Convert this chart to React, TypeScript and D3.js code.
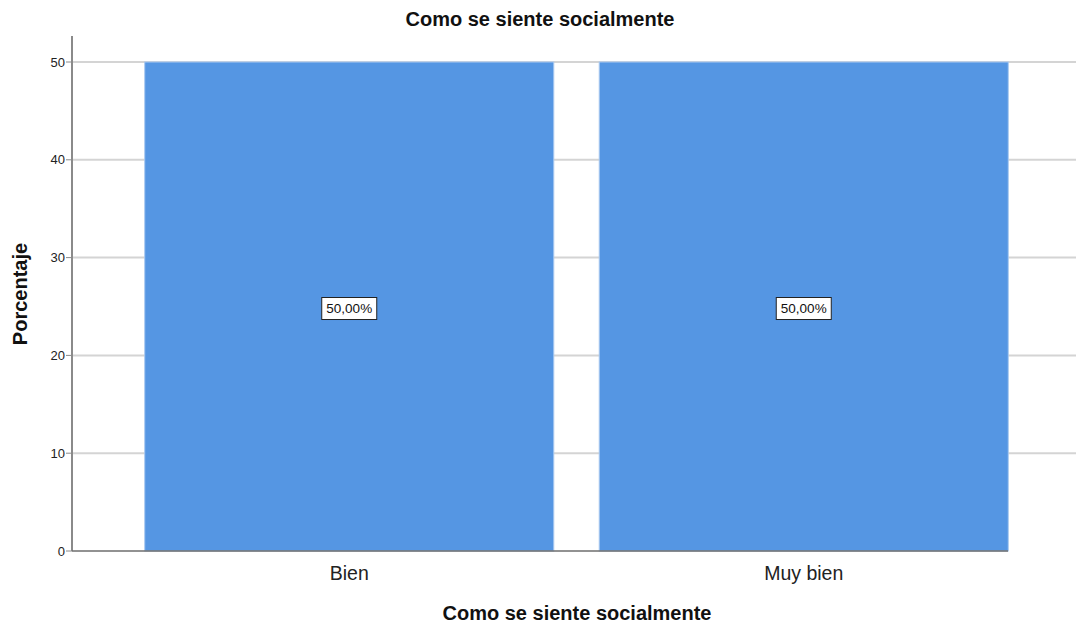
import React from "react";
import * as d3 from "d3";

const categories = ["Bien", "Muy bien"];
const percentages = [50, 50];
const valueLabels = ["50,00%", "50,00%"];
const yTicks = [0, 10, 20, 30, 40, 50];
const chartTitle = "Como se siente socialmente";
const xTitle = "Como se siente socialmente";
const yTitle = "Porcentaje";

const W = 1076;
const H = 623;
const FONT = "'Liberation Sans', Arial, sans-serif";

export default function App() {
  const x = d3.scaleBand<string>().domain(categories).range([72, 1081]).paddingInner(0.1).paddingOuter(0.16);
  const y = d3.scaleLinear().domain([0, 52.66]).range([551, 36]);
  const bw = x.bandwidth();

  return (
    <svg width={W} height={H} style={{ position: "absolute", left: 0, top: 0, background: "#fff" }} fontFamily={FONT}>
      <rect x={0} y={0} width={W} height={H} fill="#fff" />
      {/* grid */}
      {yTicks.filter((t) => t > 0).map((t) => (
        <line key={t} x1={72} x2={W} y1={y(t)} y2={y(t)} stroke="#d4d4d4" strokeWidth={2} />
      ))}
      {/* bars */}
      {categories.map((c, i) => (
        <rect
          key={c}
          x={x(c)!}
          y={y(percentages[i])}
          width={bw}
          height={y(0) - y(percentages[i])}
          fill="#5596e3"
          stroke="#a9c9f0"
          strokeWidth={1}
        />
      ))}
      {/* axes */}
      <line x1={72} x2={72} y1={36} y2={551} stroke="#8a8a8a" strokeWidth={2} />
      <line x1={72} x2={1008} y1={551} y2={551} stroke="#6e6e6e" strokeWidth={1.5} />
      {yTicks.map((t) => (
        <g key={t}>
          <line x1={66} x2={72} y1={y(t)} y2={y(t)} stroke="#8a8a8a" strokeWidth={1} />
          <text x={65} y={y(t)} dy="0.35em" textAnchor="end" fontSize={13} fill="#222">
            {t}
          </text>
        </g>
      ))}
      {categories.map((c) => (
        <text key={c} x={x(c)! + bw / 2} y={580} textAnchor="middle" fontSize={19.5} fill="#222">
          {c}
        </text>
      ))}
      {/* value labels */}
      {categories.map((c, i) => {
        const cx = x(c)! + bw / 2;
        const cy = y(percentages[i] / 2) + 2;
        const bwid = 55;
        return (
          <g key={c}>
            <rect x={cx - bwid / 2} y={cy - 11} width={bwid} height={22} fill="#fff" stroke="#222" strokeWidth={1} />
            <text x={cx} y={cy} dy="0.35em" textAnchor="middle" fontSize={13.5} fill="#111">
              {valueLabels[i]}
            </text>
          </g>
        );
      })}
      {/* titles */}
      <text x={540} y={26} textAnchor="middle" fontSize={20} fontWeight="bold" fill="#111">
        {chartTitle}
      </text>
      <text x={577} y={620} textAnchor="middle" fontSize={20} fontWeight="bold" fill="#111">
        {xTitle}
      </text>
      <text transform={`translate(27, 294) rotate(-90)`} textAnchor="middle" fontSize={20} fontWeight="bold" fill="#111">
        {yTitle}
      </text>
    </svg>
  );
}
